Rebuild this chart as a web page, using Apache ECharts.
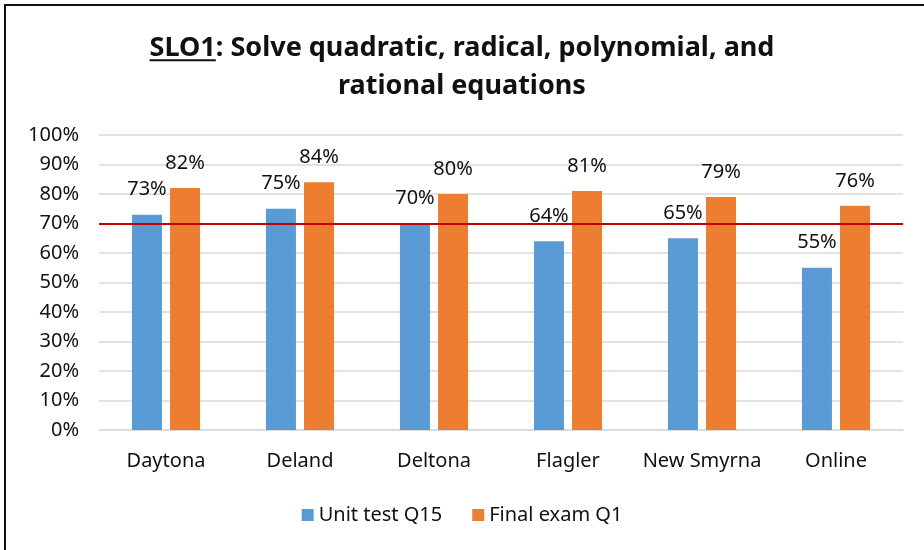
<!DOCTYPE html>
<html>
<head>
<meta charset="utf-8">
<script src="https://cdn.jsdelivr.net/npm/echarts@6/dist/echarts.min.js"></script>
<style>
    html, body { margin: 0; padding: 0; background: #fff; }
    #chart { width: 924px; height: 550px; }
    .frame {
        position: absolute;
        left: 4px;
        top: 4px;
        width: 930px;
        height: 560px;
        border-top: 2px solid #111;
        border-left: 2px solid #111;
        pointer-events: none;
    }
</style>
</head>
<body>
<div id="chart"></div>
<div class="frame"></div>
<script>
const campuses = ['Daytona', 'Deland', 'Deltona', 'Flagler', 'New Smyrna', 'Online'];
const unitTestQ15 = [73, 75, 70, 64, 65, 55];
const finalExamQ1 = [82, 84, 80, 81, 79, 76];
const targetLevel = 70;

const font = 'Noto Sans';
const titleSize = 27;
const titleTop = 24;
const titleLine1 = 'SLO1: Solve quadratic, radical, polynomial, and';

var myChart = echarts.init(document.getElementById('chart'));

// underline under "SLO1" (echarts rich text has no text-decoration)
const ctx = document.createElement('canvas').getContext('2d');
ctx.font = 'bold ' + titleSize + 'px "' + font + '"';
const lineW = ctx.measureText(titleLine1).width;
const sloW = ctx.measureText('SLO1').width;
const ulX = 462 - lineW / 2;
const ulY = titleTop + 19 + titleSize * 0.6;

const labelStyle = {
    show: true,
    position: 'top',
    distance: 15,
    formatter: '{c}%',
    color: '#111',
    fontFamily: font,
    fontSize: 20
};

myChart.setOption({
    animation: false,
    title: {
        text: '{u|SLO1}: Solve quadratic, radical, polynomial, and\nrational equations',
        left: 'center',
        top: titleTop,
        textStyle: {
            fontFamily: font,
            fontWeight: 'bold',
            fontSize: titleSize,
            lineHeight: 38,
            color: '#111',
            rich: {
                u: {
                    fontFamily: font,
                    fontWeight: 'bold',
                    fontSize: titleSize,
                    lineHeight: 38,
                    color: '#111'
                }
            }
        }
    },
    graphic: [{
        type: 'rect',
        shape: { x: ulX, y: ulY, width: sloW, height: 2 },
        style: { fill: '#111' },
        silent: true
    }],
    legend: {
        bottom: 20,
        left: 'center',
        itemWidth: 12,
        itemHeight: 12,
        itemGap: 30,
        icon: 'rect',
        textStyle: { fontFamily: font, fontSize: 20, color: '#111' }
    },
    grid: {
        left: 99,
        right: 21,
        top: 135,
        bottom: 120
    },
    xAxis: {
        type: 'category',
        data: campuses,
        axisTick: { show: false },
        axisLine: { lineStyle: { color: '#d9d9d9', width: 1.5 } },
        axisLabel: { interval: 0, fontFamily: font, fontSize: 20, color: '#111', margin: 21 }
    },
    yAxis: {
        type: 'value',
        min: 0,
        max: 100,
        interval: 10,
        axisLabel: { formatter: '{value}%', fontFamily: font, fontSize: 20, color: '#111', margin: 20 },
        splitLine: { lineStyle: { color: '#d9d9d9', width: 1.5 } }
    },
    series: [
        {
            name: 'Unit test Q15',
            type: 'bar',
            data: unitTestQ15,
            barWidth: 30,
            barGap: '27%',
            itemStyle: { color: '#5B9BD5' },
            label: labelStyle,
            markLine: {
                silent: true,
                symbol: 'none',
                label: { show: false },
                lineStyle: { color: '#C00000', width: 2, type: 'solid' },
                data: [{ yAxis: targetLevel }]
            }
        },
        {
            name: 'Final exam Q1',
            type: 'bar',
            data: finalExamQ1,
            barWidth: 30,
            itemStyle: { color: '#ED7D31' },
            label: labelStyle
        }
    ]
});
</script>
</body>
</html>
